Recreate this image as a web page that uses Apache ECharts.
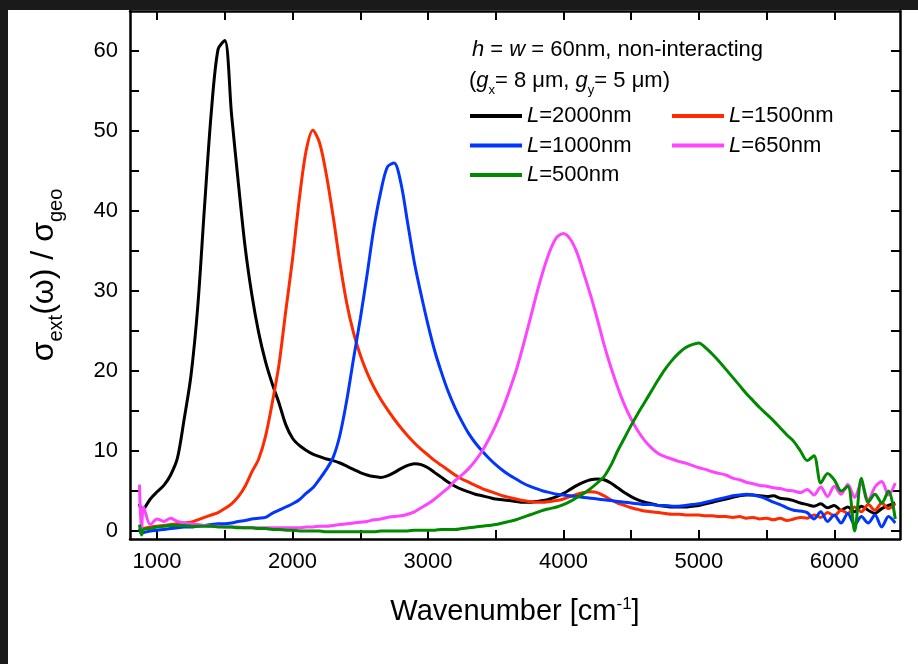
<!DOCTYPE html>
<html><head><meta charset="utf-8">
<script src="https://cdn.jsdelivr.net/npm/echarts@6/dist/echarts.min.js"></script>
<style>html,body{margin:0;padding:0;background:#fff}#c{width:918px;height:664px}</style>
</head><body><div id="c"></div>
<script>
const wavenumber = [870, 885,
  900, 950, 1000, 1050, 1100, 1150, 1200, 1250, 1300, 1350,
  1400, 1450, 1500, 1550, 1600, 1650, 1700, 1750, 1800, 1850,
  1900, 1950, 2000, 2050, 2100, 2150, 2200, 2250, 2300, 2350,
  2400, 2450, 2500, 2550, 2600, 2650, 2700, 2750, 2800, 2850,
  2900, 2950, 3000, 3050, 3100, 3150, 3200, 3250, 3300, 3350,
  3400, 3450, 3500, 3550, 3600, 3650, 3700, 3750, 3800, 3850,
  3900, 3950, 4000, 4050, 4100, 4150, 4200, 4250, 4300, 4350,
  4400, 4450, 4500, 4550, 4600, 4650, 4700, 4750, 4800, 4850,
  4900, 4950, 5000, 5050, 5100, 5150, 5200, 5250, 5300, 5350,
  5400, 5450, 5500, 5550, 5600, 5650, 5700, 5750, 5800, 5850,
  5900, 5950, 6000, 6050, 6100, 6150, 6200, 6250, 6300, 6350,
  6400, 6450];

const valuesL2000 = [3.4, 2.6,
  2.7, 4.0, 4.9, 5.7, 7.0, 9.1, 14.0, 19.4, 28.0, 40.5,
  52.3, 60.2, 61.3, 52.0, 43.5, 35.5, 29.5, 24.8, 21.2, 18.4,
  16.0, 13.3, 11.6, 10.7, 10.1, 9.6, 9.3, 9.0, 8.8, 8.5,
  8.1, 7.7, 7.3, 7.0, 6.8, 6.7, 6.9, 7.3, 7.8, 8.2,
  8.4, 8.3, 7.9, 7.3, 6.7, 6.1, 5.6, 5.2, 4.9, 4.6,
  4.4, 4.2, 4.0, 3.9, 3.8, 3.7, 3.6, 3.6, 3.7, 3.8,
  4.0, 4.3, 4.7, 5.2, 5.7, 6.1, 6.4, 6.5, 6.4, 6.0,
  5.4, 4.8, 4.3, 3.9, 3.6, 3.4, 3.2, 3.1, 3.0, 3.0,
  3.0, 3.1, 3.2, 3.4, 3.6, 3.8, 4.0, 4.2, 4.4, 4.5,
  4.5, 4.4, 4.3, 4.4, 4.1, 4.0, 3.8, 3.5, 3.3, 3.1,
  3.4, 2.9, 3.2, 2.6, 3.0, 2.4, 3.1, 2.6, 2.2, 2.8,
  3.2, 3.5];

const valuesL1500 = [0.2, 0.0,
  0.3, 0.5, 0.6, 0.7, 0.8, 0.9, 1.0, 1.1, 1.4, 1.7,
  2.0, 2.3, 2.8, 3.4, 4.3, 5.6, 7.4, 9.0, 11.8, 16.0,
  20.8, 27.5, 34.0, 41.5, 47.5, 50.1, 48.5, 44.5, 39.3, 33.5,
  28.5, 24.8, 22.0, 19.8, 18.0, 16.5, 15.2, 14.0, 12.9, 11.9,
  11.0, 10.2, 9.5, 8.8, 8.2, 7.6, 7.0, 6.5, 6.1, 5.7,
  5.3, 5.0, 4.7, 4.4, 4.2, 4.0, 3.8, 3.7, 3.6, 3.6,
  3.7, 3.8, 4.0, 4.3, 4.6, 4.8, 4.9, 4.8, 4.4, 3.9,
  3.5, 3.2, 2.9, 2.7, 2.5, 2.4, 2.3, 2.2, 2.1, 2.1,
  2.0, 2.0, 2.0, 1.9, 1.9, 1.8, 1.8, 1.7, 1.8, 1.6,
  1.7, 1.5, 1.6, 1.4, 1.6, 1.3, 1.5, 1.7, 1.6, 2.0,
  1.7, 2.3, 1.9, 2.6, 2.2, 3.0, 2.4, 3.3, 2.6, 3.5,
  2.8, 3.4];

const valuesL1000 = [0.3, -0.3,
  -0.2, 0.0, 0.1, 0.2, 0.3, 0.4, 0.5, 0.5, 0.6, 0.7,
  0.8, 0.9, 0.9, 1.0, 1.2, 1.3, 1.5, 1.6, 1.7, 2.2,
  2.6, 3.0, 3.4, 3.9, 4.7, 5.4, 6.5, 7.7, 9.2, 12.0,
  16.3, 21.5, 26.5, 32.0, 37.8, 42.3, 45.5, 46.0, 43.5, 38.5,
  33.5, 29.5, 25.8, 22.5, 19.8, 17.4, 15.4, 13.7, 12.2, 11.0,
  10.0, 9.1, 8.3, 7.6, 7.0, 6.5, 6.0, 5.6, 5.3, 5.0,
  4.8, 4.6, 4.5, 4.4, 4.3, 4.2, 4.1, 4.0, 3.9, 3.8,
  3.7, 3.6, 3.5, 3.4, 3.3, 3.3, 3.2, 3.2, 3.1, 3.1,
  3.2, 3.3, 3.4, 3.6, 3.8, 4.0, 4.2, 4.4, 4.5, 4.6,
  4.5, 4.3, 4.0, 3.6, 3.3, 2.9, 2.6, 2.5, 2.3, 1.5,
  2.4, 1.2, 2.0, 1.0, 2.2, 0.8, 1.8, 1.0, 2.0, 0.5,
  1.8, 1.0];

const valuesL650 = [5.8, -0.3,
  3.0, 0.8, 1.5, 1.2, 1.6, 1.2, 1.0, 0.9, 0.8, 0.7,
  0.6, 0.6, 0.5, 0.5, 0.5, 0.4, 0.4, 0.4, 0.4, 0.4,
  0.4, 0.4, 0.4, 0.4, 0.5, 0.5, 0.6, 0.6, 0.7, 0.8,
  0.9, 1.0, 1.1, 1.2, 1.4, 1.5, 1.7, 1.8, 1.9, 2.1,
  2.4, 2.9, 3.4, 4.0, 4.7, 5.4, 6.3, 7.0, 7.8, 8.8,
  10.0, 11.5, 13.2, 15.2, 17.5, 20.0, 23.0, 26.2, 29.5, 32.5,
  35.0, 36.7, 37.2, 36.5, 34.8, 32.2, 29.5, 26.5, 23.3, 20.5,
  18.0, 15.8, 14.0, 12.5, 11.3, 10.4, 9.7, 9.3, 9.0, 8.7,
  8.5, 8.2, 7.9, 7.7, 7.4, 7.2, 7.0, 6.6, 6.4, 6.1,
  5.9, 5.7, 5.6, 5.4, 5.3, 5.1, 5.0, 4.8, 5.2, 4.5,
  5.5, 4.3, 5.6, 4.6, 5.8, 4.2, 6.0, 3.8, 5.5, 6.2,
  4.5, 6.0];

const valuesL500 = [0.8, -0.5,
  0.2, 0.3, 0.5, 0.6, 0.7, 0.7, 0.7, 0.6, 0.6, 0.6,
  0.6, 0.5, 0.5, 0.5, 0.4, 0.4, 0.4, 0.3, 0.3, 0.2,
  0.2, 0.1, 0.1, 0.0, 0.0, 0.0, 0.0, -0.1, -0.1, -0.1,
  -0.1, -0.1, -0.1, -0.1, -0.1, 0.0, 0.0, 0.0, 0.0, 0.0,
  0.1, 0.1, 0.1, 0.1, 0.2, 0.2, 0.2, 0.3, 0.4, 0.5,
  0.6, 0.7, 0.8, 1.0, 1.2, 1.4, 1.7, 2.0, 2.3, 2.6,
  2.8, 3.0, 3.3, 3.7, 4.2, 4.7, 5.3, 6.0, 6.8, 8.2,
  10.0, 11.6, 13.2, 14.7, 16.1, 17.5, 18.9, 20.2, 21.3, 22.2,
  22.9, 23.3, 23.5, 22.9, 22.1, 21.2, 20.2, 19.2, 18.2, 17.2,
  16.3, 15.4, 14.6, 13.8, 12.9, 12.0, 11.2, 10.0, 8.8, 9.4,
  6.0, 7.2, 6.4, 5.0, 5.6, 0.0, 6.6, 3.6, 4.6, 3.5,
  5.0, 1.5];

const seriesNames = ['L=2000nm', 'L=1500nm', 'L=1000nm', 'L=650nm', 'L=500nm'];
const seriesValues = [valuesL2000, valuesL1500, valuesL1000, valuesL650, valuesL500];
const seriesColors = ['#000000', '#ff2a00', '#0036ff', '#ff44ff', '#008a00'];
const xTickLabels = [1000, 2000, 3000, 4000, 5000, 6000];
const xTickMarks = [1000, 1500, 2000, 2500, 3000, 3500, 4000, 4500, 5000, 5500, 6000];
const yTickLabels = [0, 10, 20, 30, 40, 50, 60];
const yTickMarks = [0, 5, 10, 15, 20, 25, 30, 35, 40, 45, 50, 55, 60];

const FONT = "'Liberation Sans', Arial, sans-serif";
const chart = echarts.init(document.getElementById('c'), null, {renderer: 'canvas'});

function tickStyle(values) {
  return {show: true, inside: true, length: 9, customValues: values, lineStyle: {color: '#000', width: 2}};
}
const lineAxis = {show: true, onZero: false, lineStyle: {color: '#000', width: 2.5}};

function xAxisBase(pos) {
  return {
    type: 'value', position: pos, min: 800, max: 6485,
    axisLine: lineAxis, axisTick: tickStyle(xTickMarks), splitLine: {show: false},
    axisLabel: pos === 'bottom' ? {
      show: true, color: '#000', fontSize: 22, fontFamily: FONT, margin: 12,
      customValues: xTickLabels, formatter: v => String(v)
    } : {show: false}
  };
}
function yAxisBase(pos) {
  return {
    type: 'value', position: pos, min: -1, max: 65,
    axisLine: lineAxis, axisTick: tickStyle(yTickMarks), splitLine: {show: false},
    axisLabel: pos === 'left' ? {
      show: true, color: '#000', fontSize: 22, fontFamily: FONT, margin: 12,
      customValues: yTickLabels, formatter: v => String(v)
    } : {show: false}
  };
}

const xb = xAxisBase('bottom');
xb.name = 'Wavenumber [cm{sup|-1}]';
xb.nameLocation = 'middle';
xb.nameGap = 57;
xb.nameTextStyle = {color: '#000', fontSize: 29, fontFamily: FONT, lineHeight: 32,
  rich: {sup: {fontSize: 17, fontFamily: FONT, color: '#000', verticalAlign: 'top', lineHeight: 17}}};

const yl = yAxisBase('left');
yl.name = 'σ{sub|ext}(ω) / σ{sub|geo}';
yl.nameLocation = 'middle';
yl.nameGap = 64;
yl.nameTextStyle = {color: '#000', fontSize: 32, fontFamily: FONT, lineHeight: 44,
  rich: {sub: {fontSize: 20, fontFamily: FONT, color: '#000', verticalAlign: 'bottom', lineHeight: 20}}};

const legendText = {color: '#000', fontSize: 22, fontFamily: FONT, lineHeight: 20,
  rich: {i: {fontStyle: 'italic', fontSize: 22, fontFamily: FONT, color: '#000', lineHeight: 20},
         n: {fontSize: 22, fontFamily: FONT, color: '#000', lineHeight: 20}}};
const legendFmt = name => '{i|L}{n|' + name.slice(1) + '}';

const option = {
  animation: false,
  backgroundColor: '#ffffff',
  grid: {left: 130, right: 18, top: 11, bottom: 125},
  xAxis: [xb, xAxisBase('top')],
  yAxis: [yl, yAxisBase('right')],
  legend: [
    {left: 470, top: 105, padding: 0, orient: 'vertical', icon: 'rect', itemWidth: 52, itemHeight: 4, itemGap: 7.5,
     selectedMode: false, data: [seriesNames[0], seriesNames[2], seriesNames[4]], textStyle: legendText, formatter: legendFmt},
    {left: 672, top: 105, padding: 0, orient: 'vertical', icon: 'rect', itemWidth: 52, itemHeight: 4, itemGap: 7.5,
     selectedMode: false, data: [seriesNames[1], seriesNames[3]], textStyle: legendText, formatter: legendFmt}
  ],
  graphic: [
    {type: 'rect', left: 0, top: 0, shape: {width: 918, height: 10}, style: {fill: '#1a1a1a'}, silent: true},
    {type: 'rect', left: 0, top: 0, shape: {width: 8, height: 664}, style: {fill: '#1a1a1a'}, silent: true},
    {type: 'text', left: 472, top: 38, silent: true,
     style: {text: '{i|h} = {i|w} = 60nm, non-interacting', fill: '#000', fontSize: 22, fontFamily: FONT, lineHeight: 24,
       rich: {i: {fontStyle: 'italic', fontSize: 22, fontFamily: FONT, fill: '#000', lineHeight: 24}}}},
    {type: 'text', left: 469, top: 65, silent: true,
     style: {text: '({i|g}{sub|x}= 8 μm, {i|g}{sub|y}= 5 μm)', fill: '#000', fontSize: 22, fontFamily: FONT, lineHeight: 32,
       rich: {i: {fontStyle: 'italic', fontSize: 22, fontFamily: FONT, fill: '#000', lineHeight: 24},
              sub: {fontSize: 13, fontFamily: FONT, fill: '#000', lineHeight: 13, verticalAlign: 'bottom'}}}}
  ],
  series: seriesNames.map((name, k) => ({
    name: name, type: 'line', xAxisIndex: 0, yAxisIndex: 0,
    showSymbol: false, symbol: 'none', clip: true, smooth: 0.3,
    lineStyle: {color: seriesColors[k], width: 3},
    itemStyle: {color: seriesColors[k]},
    data: wavenumber.map((w, i) => [w, seriesValues[k][i]])
  }))
};
chart.setOption(option);
</script></body></html>
